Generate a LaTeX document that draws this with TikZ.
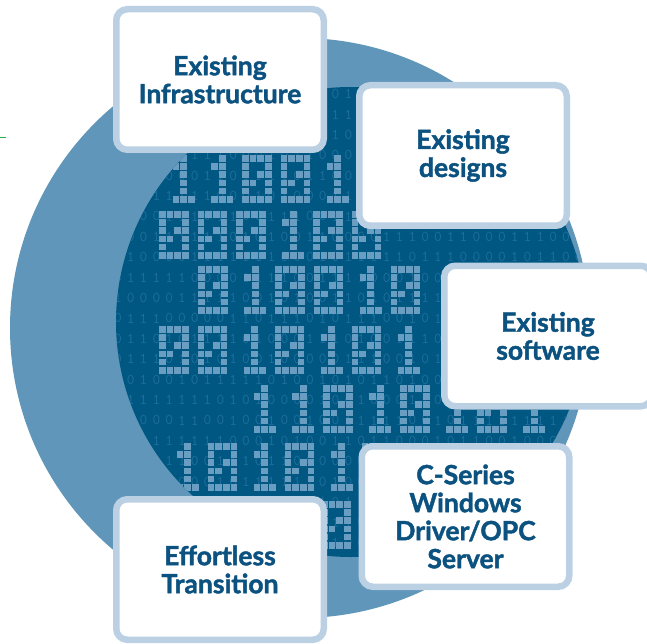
\documentclass[tikz,border=0pt]{standalone}
\usepackage{fontspec}
\newfontfamily\boxfont{Lato}[BoldFeatures={FakeBold=1.6}]
\definecolor{outerblue}{HTML}{6096B9}
\definecolor{innerblue}{HTML}{005882}
\definecolor{pixblue}{HTML}{6A9DC2}
\definecolor{smallblue}{HTML}{1E6E9C}
\definecolor{boxborder}{HTML}{BBD0E3}
\definecolor{textblue}{HTML}{0B5280}
\definecolor{greenmark}{HTML}{22B04B}
\def\glyphzero{0/0,1/0,2/0,3/0,0/1,3/1,0/2,2/2,3/2,0/3,1/3,3/3,0/4,3/4,0/5,1/5,2/5,3/5}
\def\glyphone{2/0,1/1,2/1,2/2,2/3,2/4,1/5,2/5,3/5}
\newcommand\bigdigits[3]{%
  \foreach \dg [count=\k from 0] in {#3} {%
    \ifnum\dg=0 \let\glcur\glyphzero \else \let\glcur\glyphone \fi
    \foreach \c/\r in \glcur {%
      \fill[pix] ({#1+38.5*\k+7.7*\c},{#2+8.2*\r}) rectangle ++(6.6,6.6);
    }%
  }%
}
\tikzset{
  pix/.style={fill=pixblue},
  smalld/.style={inner sep=0pt, text=smallblue, font=\ttfamily\fontsize{15}{15}\selectfont},
  infobox/.style={draw=boxborder, fill=white, line width=6.5pt, rounded corners=11pt,
    minimum width=207.5pt, minimum height=140.5pt, inner sep=0pt, align=center,
    text=textblue, font=\boxfont\bfseries\fontsize{26.5}{28}\selectfont},
}
\begin{document}
\begin{tikzpicture}[x=1pt,y=-1pt]
\useasboundingbox (0,0) rectangle (647,644);
% circles
\fill[outerblue] (300,328) circle[radius=290pt];
\fill[innerblue] (351,322) circle[radius=235pt];
% binary pattern
\begin{scope}
  \clip (351,322) circle[radius=235pt];
  \pgfmathsetseed{7}
  \foreach \j in {0,...,23} {
    \foreach \i in {0,...,37} {
      \pgfmathrandominteger{\dd}{0}{1}
      \node[smalld] at ({118+12.8*\i},{94+20.4*\j}) {\dd};
    }
  }
  \bigdigits{165}{155}{1,1,0,0,1,1}
  \bigdigits{159}{211}{0,0,0,1,0,0}
  \bigdigits{198}{266}{0,1,0,0,1,0}
  \bigdigits{159}{326}{0,0,1,0,1,0,1}
  \bigdigits{246}{385}{1,1,0,1,0,1,0,1}
  \bigdigits{169}{443}{1,0,1,0,1,0}
  \bigdigits{244}{501}{1,0,0}
\end{scope}
% boxes
\node[infobox] (infra) at (220,79.5) {Existing\\Infrastructure};
\node[infobox] (designs) at (463,155.5) {Existing\\designs};
\node[infobox] (software) at (548,336) {Existing\\software};
\node[infobox] (cseries) at (465.5,516.5) {C-Series\\Windows\\Driver/OPC\\Server};
\node[infobox] (effort) at (220,569.5) {Effortless\\Transition};
% small green mark
\draw[greenmark, line width=1pt] (0,138) -- (6,138);
\end{tikzpicture}
\end{document}
